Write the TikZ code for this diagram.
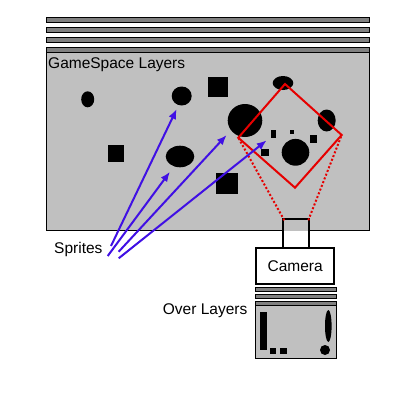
\documentclass[tikz,border=0pt]{standalone}
\usepackage{fontspec}
\setmainfont{Liberation Sans}
\usetikzlibrary{arrows.meta}
\definecolor{layerdark}{HTML}{808080}
\definecolor{layerlight}{HTML}{C0C0C0}
\definecolor{spriteblue}{RGB}{64,16,228}
\definecolor{camred}{RGB}{230,0,0}
\tikzset{
  bar/.style={draw=black,line width=1pt,fill=layerdark},
  panel/.style={draw=black,line width=1pt,fill=layerlight},
  sprite/.style={fill=black},
  lbl/.style={inner sep=0pt,font=\fontsize{15.5pt}{18pt}\selectfont},
  view/.style={draw=camred,line width=2pt,line join=miter},
  ray/.style={draw=camred,line width=2pt,dotted},
  pointer/.style={draw=spriteblue,line width=2pt,-{Latex[length=10pt,width=8pt]}},
  cam/.style={draw=black,line width=2pt,fill=white}
}
\begin{document}
\begin{tikzpicture}[x=1pt,y=-1pt]
\useasboundingbox (0,0) rectangle (400,400);
% top layers
\draw[bar] (46,17.3) rectangle (369,22.3);
\draw[bar] (46,27.3) rectangle (369,32.3);
\draw[bar] (46,37.3) rectangle (369,42.3);
\draw[panel] (46,47.3) rectangle (369,230);
\draw[bar] (46,47.3) rectangle (369,52.3);
\node[lbl,anchor=base west] (gs) at (48,68.3) {GameSpace Layers};
% sprites
\fill[sprite] (87.7,99.3) ellipse [x radius=6.5,y radius=8];
\fill[sprite] (181.7,96) ellipse [x radius=10,y radius=9.5];
\fill[sprite] (208.3,77.3) rectangle (227.7,96.7);
\fill[sprite] (283,83) ellipse [x radius=10.3,y radius=7];
\fill[sprite] (245,120.5) ellipse [x radius=17.3,y radius=16.5];
\fill[sprite] (326.7,120.5) ellipse [x radius=9,y radius=11];
\fill[sprite] (271,130) rectangle (276,138.3);
\fill[sprite] (290,130) rectangle (294,134.3);
\fill[sprite] (310,135) rectangle (316.7,142.7);
\fill[sprite] (261,149.3) rectangle (269,156);
\fill[sprite] (295.5,152.3) ellipse [x radius=13.8,y radius=13.4];
\fill[sprite] (108,145) rectangle (124,161.7);
\fill[sprite] (180,156.5) ellipse [x radius=14.3,y radius=10.8];
\fill[sprite] (216,172.7) rectangle (237.7,194.3);
% camera
\fill[layerlight] (283.3,219.3) rectangle (309.3,231);
\draw[draw=black,line width=2pt] (283.3,219.3) rectangle (309.3,248.3);
\coordinate (lensL) at (284.3,220.3);
\coordinate (lensR) at (308.3,220.3);
\node[cam,minimum width=78.3pt,minimum height=36pt,inner sep=0pt,
      font=\fontsize{15.5pt}{18pt}\selectfont] (camera) at (295.2,266.3) {Camera};
% view
\coordinate (vT) at (285,84);
\coordinate (vR) at (341.7,135);
\coordinate (vB) at (295,187.7);
\coordinate (vL) at (238.3,137.7);
\draw[ray] (lensL) -- (vL);
\draw[ray] (lensR) -- (vR);
\draw[view] (vT) -- (vR) -- (vB) -- (vL) -- cycle;
% over layers
\draw[bar] (255,287.3) rectangle (336.7,291);
\draw[bar] (255,294.3) rectangle (336.7,298);
\draw[panel] (255,301.7) rectangle (336.7,358.3);
\draw[bar] (255,301.7) rectangle (336.7,305.3);
\fill[sprite] (260,311.7) rectangle (266.7,350);
\fill[sprite] (270,348.3) rectangle (275.7,354.3);
\fill[sprite] (280,348.3) rectangle (286.7,354.3);
\fill[sprite] (328.3,326) ellipse [x radius=3.3,y radius=16];
\fill[sprite] (325,350) circle [radius=5];
\node[lbl,anchor=base west] (over) at (162.7,314) {Over Layers};
% sprites label and pointers
\node[lbl,anchor=base west] (spr) at (54,253.3) {Sprites};
\coordinate (s1) at (111,246);
\coordinate (s2) at (107.7,256);
\coordinate (s3) at (118.7,251.7);
\coordinate (s4) at (118.7,258.3);
\coordinate (t1) at (176.7,109);
\coordinate (t2) at (170,171.7);
\coordinate (t3) at (226.7,135);
\coordinate (t4) at (266.7,140.3);
\draw[pointer] (s1) -- (t1);
\draw[pointer] (s2) -- (t2);
\draw[pointer] (s3) -- (t3);
\draw[pointer] (s4) -- (t4);
\end{tikzpicture}
\end{document}
